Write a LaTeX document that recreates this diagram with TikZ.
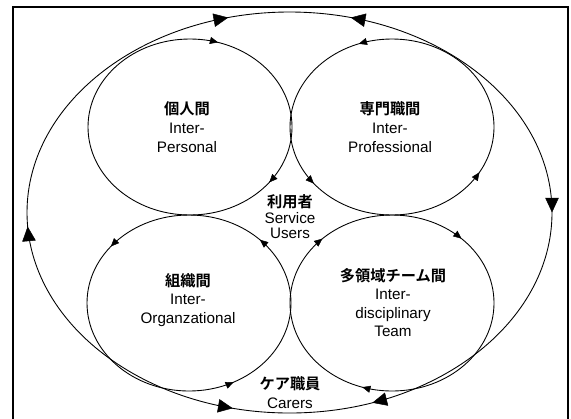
\documentclass[tikz,border=0pt]{standalone}
\usepackage{fontspec}
\setmainfont{Liberation Sans}
\newfontfamily\jpfont{Noto Sans CJK JP Bold}
\usetikzlibrary{arrows.meta,decorations.markings}

% arrowhead sitting on an ellipse: centre, x radius, y radius, from angle, to angle, tip
\newcommand{\ringtip}[6]{%
  \path [decorate,decoration={markings,mark=at position 1 with {\arrow{#6}}}]
    (#1) ++(#4:#2 and #3) arc [start angle=#4, end angle=#5, x radius=#2, y radius=#3];}
\newcommand{\jp}[1]{{\jpfont\fontsize{13}{16}\selectfont #1}}

\tikzset{smalltip/.tip={Triangle[length=7pt,width=6pt]},
         bigtip/.tip={Triangle[length=12.5pt,width=11.5pt]}}

\begin{document}
\begin{tikzpicture}[scale=0.3]
    \tikzstyle{every node}+=[inner sep=0pt]
    \tikzstyle{ring}=[black, line width=0.75pt]
    \tikzstyle{caption}=[align=center, font=\fontsize{13}{16}\selectfont]
    \useasboundingbox (0,0) rectangle (57.1,-41.8);
    % frame, open at the bottom
    \draw [black, line width=1.2pt] (1.3,-42.5) -- (1.3,-0.7) -- (56.8,-0.7) -- (56.8,-42.5);
    % centres of the rings
    \coordinate (whole) at (28.95,-21.25);
    \coordinate (pers) at (19.0,-12.7);
    \coordinate (prof) at (39.2,-12.7);
    \coordinate (org) at (18.9,-30.3);
    \coordinate (team) at (39.2,-30.3);
    % big loop round everything
    \draw [ring] (whole) ellipse [x radius=26.25, y radius=20.05];
    \foreach \a/\b in {110/103.5, 70/76.5, 190/184, 6/0, 252/257.5, 294/288.4}
        \ringtip{whole}{26.25}{20.05}{\a}{\b}{bigtip};
    % four rings
    \draw [ring] (pers) ellipse [x radius=10.2, y radius=8.8];
    \draw [ring] (prof) ellipse [x radius=10.2, y radius=8.8];
    \draw [ring] (org) ellipse [x radius=10.2, y radius=8.8];
    \draw [ring] (team) ellipse [x radius=10.2, y radius=8.8];
    \foreach \a/\b in {80/74, -33/-39, 220/214}
        \ringtip{pers}{10.2}{8.8}{\a}{\b}{smalltip};
    \foreach \a/\b in {103/109, -37/-31, 214/220}
        \ringtip{prof}{10.2}{8.8}{\a}{\b}{smalltip};
    \foreach \a/\b in {134/140, 40/46, -70/-64}
        \ringtip{org}{10.2}{8.8}{\a}{\b}{smalltip};
    \foreach \a/\b in {139/133, 53/47, 259/253}
        \ringtip{team}{10.2}{8.8}{\a}{\b}{smalltip};
    % labels
    \node [caption] (pers text) at (18.7,-12.7) {\jp{個人間}\\Inter-\\Personal};
    \node [caption] (prof text) at (39.0,-12.7) {\jp{専門職間}\\Inter-\\Professional};
    \node [caption, font=\fontsize{13}{13.2}\selectfont] (users text) at (29.0,-21.7) {\jp{利用者}\\Service\\Users};
    \node [caption, font=\fontsize{13}{15.6}\selectfont] (team text) at (39.3,-30.25) {\jp{多領域チーム間}\\Inter-\\disciplinary\\Team};
    \node [caption] (org text) at (18.8,-30.0) {\jp{組織間}\\Inter-\\Organzational};
    \node [caption] (carers text) at (29.0,-39.25) {\jp{ケア職員}\\Carers};
\end{tikzpicture}
\end{document}
